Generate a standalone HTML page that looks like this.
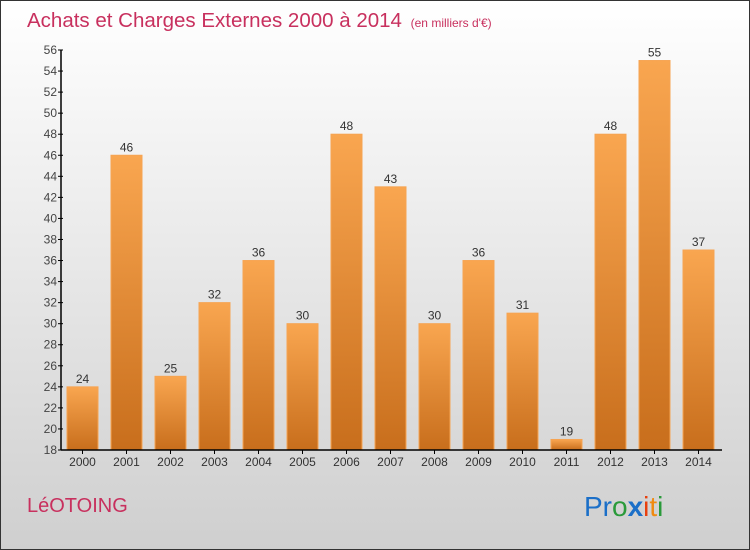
<!DOCTYPE html>
<html><head><meta charset="utf-8"><style>
html,body{margin:0;padding:0}
body{width:750px;height:550px;overflow:hidden;font-family:"Liberation Sans",sans-serif}
#frame{position:absolute;left:0;top:0;width:748px;height:548px;border:1px solid #333;background:linear-gradient(#ffffff,#cfcfcf)}
</style></head><body>
<div id="frame">
<svg id="chart" width="750" height="550" style="position:absolute;left:-1px;top:-1px">
<defs><linearGradient id="bg" x1="0" y1="0" x2="0" y2="1"><stop offset="0" stop-color="#f9a650"/><stop offset="1" stop-color="#c86e1c"/></linearGradient></defs>
<text x="27" y="27" font-size="20.5" fill="#c8305e">Achats et Charges Externes 2000 à 2014 <tspan font-size="12" dx="3">(en milliers d'€)</tspan></text>
<text x="27" y="512" font-size="20" fill="#c8305e">LéOTOING</text>
<g font-size="28">
<text x="584" y="516"><tspan fill="#1b6fc8">Pr</tspan><tspan fill="#2a9a3a">o</tspan><tspan fill="#1b6fc8" font-weight="bold">x</tspan><tspan fill="#e8400e">i</tspan><tspan fill="#f08a10">t</tspan><tspan fill="#2a9a3a">i</tspan></text>
</g>
<g id="plot"></g>
</svg>
</div>
<script>
const years=["2000","2001","2002","2003","2004","2005","2006","2007","2008","2009","2010","2011","2012","2013","2014"];
const values=[24,46,25,32,36,30,48,43,30,36,31,19,48,55,37];
const yTicks=[18,20,22,24,26,28,30,32,34,36,38,40,42,44,46,48,50,52,54,56];
const NS="http://www.w3.org/2000/svg";
const g=document.getElementById('plot');
const x0=61,yMin=18,yMax=56,yTop=50,yBot=450,step=44,bw=31;
const y=v=>yBot-(v-yMin)*(yBot-yTop)/(yMax-yMin);
const xc=i=>x0+21.5+i*step;
function el(t,a){const e=document.createElementNS(NS,t);for(const k in a)e.setAttribute(k,a[k]);g.appendChild(e);return e;}
values.forEach((v,i)=>{
 const r=el('rect',{x:xc(i)-bw/2,y:y(v),width:bw,height:yBot-y(v),fill:'url(#bg)',stroke:'#f6a452','stroke-width':1});
 
 
 const t=el('text',{x:xc(i),y:y(v)-4,'text-anchor':'middle','font-size':12,fill:'#333'});
 t.textContent=v;
 
 
 const xl=el('text',{x:xc(i),y:466,'text-anchor':'middle','font-size':12,fill:'#333'});
 xl.textContent=years[i];
 
 
 el('line',{x1:xc(i),x2:xc(i),y1:yBot,y2:yBot+4,stroke:'#000'});
});
yTicks.forEach(v=>{
 el('line',{x1:x0-3,x2:x0+2,y1:y(v),y2:y(v),stroke:'#000'});
 const t=el('text',{x:x0-4,y:y(v)+4,'text-anchor':'end','font-size':12,fill:'#444'});
 t.textContent=v;
 
 
});
const ya=el('line',{x1:x0,x2:x0,y1:yTop,y2:yBot,stroke:'#000','stroke-width':1.5});


const xa=el('line',{x1:x0,x2:722,y1:yBot,y2:yBot,stroke:'#000','stroke-width':1.5});


</script>
</body></html>
